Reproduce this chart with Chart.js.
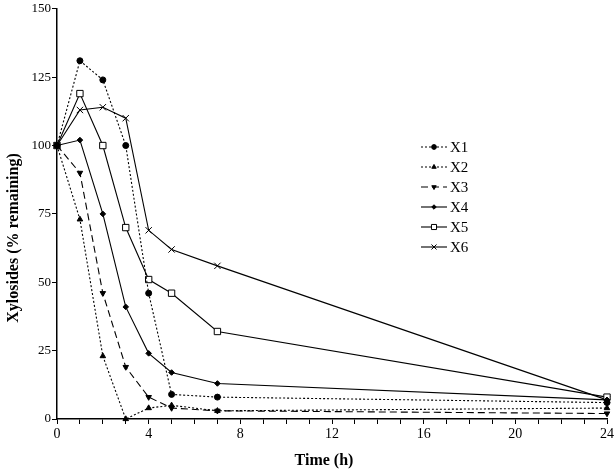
<!DOCTYPE html>
<html>
<head>
<meta charset="utf-8">
<script src="https://cdn.jsdelivr.net/npm/chart.js@4"></script>
<style>
  body { margin: 0; background: #fff; }
  #wrap { width: 616px; height: 471px; }
</style>
</head>
<body>
<div id="wrap"><canvas id="xyl"></canvas></div>
<script>
// time points (h) and % remaining per xyloside
const hours = [0, 1, 2, 3, 4, 5, 7, 24];
const labels = ['X1', 'X2', 'X3', 'X4', 'X5', 'X6'];
const x1 = [100, 131, 124, 100, 46, 9, 8, 6];
const x2 = [100, 73, 23, 0, 4, 5, 3, 4];
const x3 = [100, 90, 46, 19, 8, 4, 3, 2];
const x4 = [100, 102, 75, 41, 24, 17, 13, 7];
const x5 = [100, 119, 100, 70, 51, 46, 32, 8];
const x6 = [100, 113, 114, 110, 69, 62, 56, 7];

const serif = 'Liberation Serif';

function pts(vals){
  return vals.map((v, i) => ({x: hours[i], y: v}));
}

function series(label, vals, style, radius, dash, fill, rot){
  return {
    label: label,
    data: pts(vals),
    borderColor: '#000',
    backgroundColor: fill,
    pointBackgroundColor: fill,
    pointBorderColor: '#000',
    pointStyle: style,
    pointRadius: radius,
    pointRotation: rot || 0,
    pointBorderWidth: 1,
    borderWidth: 1.1,
    borderDash: dash,
    clip: false,
    tension: 0
  };
}

const data = {
  datasets: [
    series(labels[0], x1, 'circle', 3, [2, 2], '#000'),
    series(labels[1], x2, 'triangle', 3.2, [2, 2], '#000'),
    series(labels[2], x3, 'triangle', 3.2, [7, 4], '#000', 180),
    series(labels[3], x4, 'rectRot', 2.8, [], '#000'),
    series(labels[4], x5, 'rect', 4.5, [], '#fff'),
    series(labels[5], x6, 'crossRot', 4.5, [], '#000')
  ]
};

// legend + axis titles drawn by hand, placed like the original
const extras = {
  id: 'extras',
  afterDraw(chart){
    const ctx = chart.ctx;
    const xa = 421, xb = 447, yTop = 147, gap = 20;
    chart.data.datasets.forEach((ds, i) => {
      const y = yTop + i * gap;
      ctx.save();
      ctx.strokeStyle = '#000';
      ctx.lineWidth = 1.1;
      ctx.setLineDash(ds.borderDash);
      ctx.beginPath();
      ctx.moveTo(xa, y);
      ctx.lineTo(xb, y);
      ctx.stroke();
      ctx.setLineDash([]);
      ctx.fillStyle = ds.pointBackgroundColor;
      ctx.lineWidth = 1;
      Chart.helpers.drawPoint(ctx, {
        pointStyle: ds.pointStyle,
        rotation: ds.pointRotation,
        radius: ds.pointRadius * 0.8,
        borderWidth: 1
      }, (xa + xb) / 2, y);
      ctx.fillStyle = '#000';
      ctx.font = '15px "' + serif + '"';
      ctx.textBaseline = 'middle';
      ctx.fillText(ds.label, xb + 3, y + 1);
      ctx.restore();
    });

    ctx.save();
    ctx.fillStyle = '#000';
    ctx.font = 'bold 16px "' + serif + '"';
    ctx.textAlign = 'center';
    ctx.textBaseline = 'middle';
    ctx.fillText('Time (h)', 324, 461);
    ctx.translate(14, 238);
    ctx.rotate(-Math.PI / 2);
    ctx.fillText('Xylosides (% remaining)', 0, 0);
    ctx.restore();
  }
};

const config = {
  type: 'line',
  data: data,
  plugins: [extras],
  options: {
    responsive: true,
    maintainAspectRatio: false,
    animation: false,
    layout: { padding: { top: 7, right: 6, left: 0, bottom: 0 } },
    plugins: {
      legend: { display: false },
      tooltip: { enabled: false }
    },
    scales: {
      x: {
        type: 'linear',
        min: 0,
        max: 24,
        border: { color: '#000', width: 1.5 },
        grid: { drawOnChartArea: false, drawTicks: true, tickLength: 5, color: '#000', lineWidth: 1 },
        ticks: {
          stepSize: 1,
          autoSkip: false,
          maxRotation: 0,
          color: '#000',
          padding: 2,
          font: { family: serif, size: 14 },
          callback: v => (v % 4 === 0 ? v : '')
        },
        afterFit: s => { s.height = 52; }
      },
      y: {
        min: 0,
        max: 150,
        border: { color: '#000', width: 1.5 },
        grid: { drawOnChartArea: false, drawTicks: true, tickLength: 5, color: '#000', lineWidth: 1 },
        ticks: {
          stepSize: 25,
          color: '#000',
          padding: 1,
          font: { family: serif, size: 13 }
        },
        afterFit: s => { s.width = 57; }
      }
    }
  }
};

new Chart(document.getElementById('xyl'), config);
</script>
</body>
</html>
